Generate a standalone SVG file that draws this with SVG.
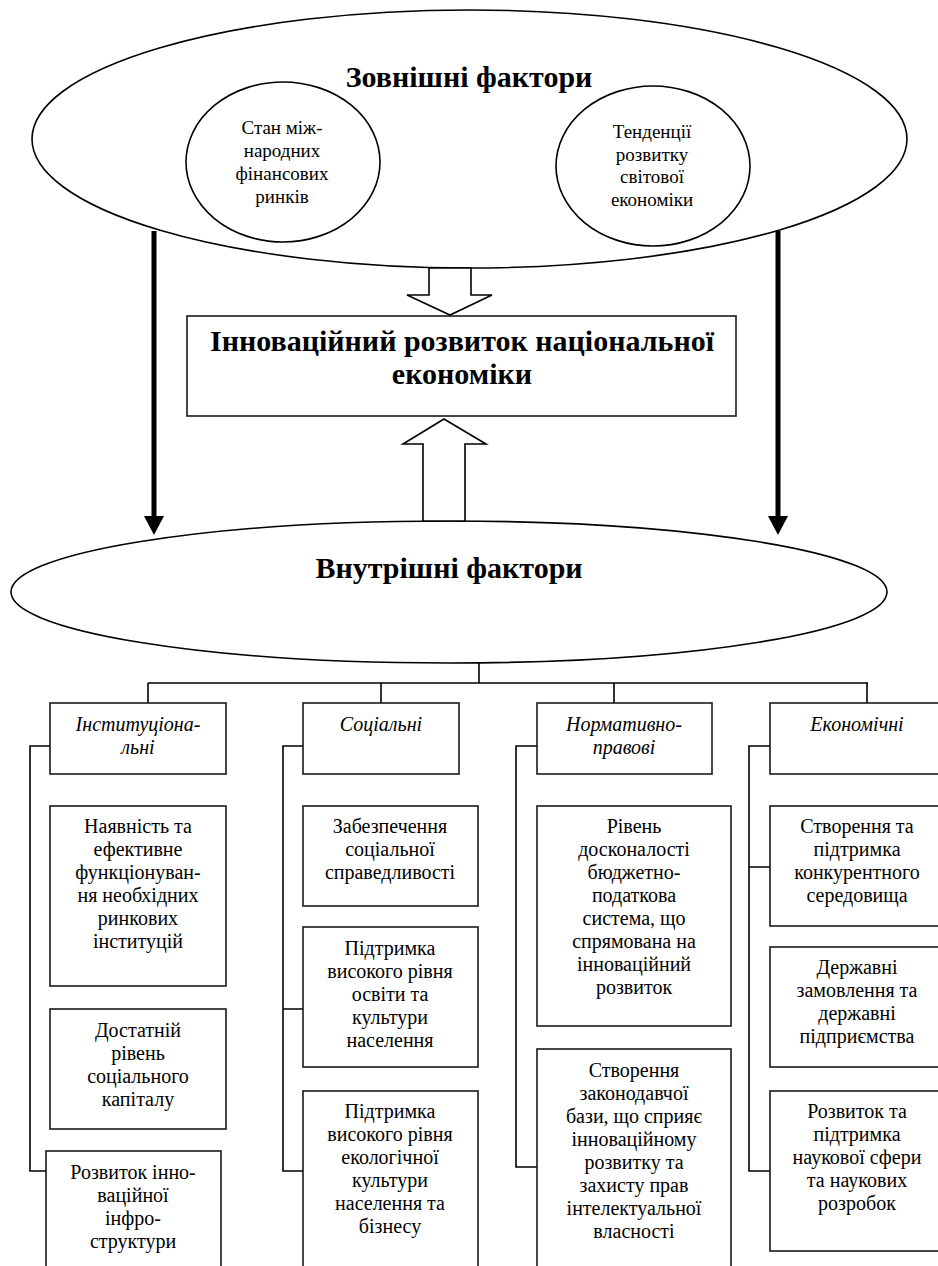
<svg xmlns="http://www.w3.org/2000/svg" width="938" height="1266" viewBox="0 0 938 1266">
<style>
.sh{fill:#fff;stroke:#000;stroke-width:1.6}
.bx{fill:#fff;stroke:#1a1a1a;stroke-width:1.6}
.cn{fill:none;stroke:#000;stroke-width:1.6}
.thick{stroke:#000;stroke-width:5;fill:none}
.t{font-family:"Liberation Serif","Times New Roman",serif;fill:#000;text-anchor:middle}
.tb{font-size:30px;font-weight:bold}
.te{font-size:19px}
.tn{font-size:20px}
.ti{font-size:20px;font-style:italic}
</style>
<rect width="938" height="1266" fill="#fff"/>
<g id="external">
<ellipse class="sh" cx="469.5" cy="139" rx="437.5" ry="129"/>
<text class="t tb" x="469" y="87">Зовнішні фактори</text>
</g>
<g id="financial-markets">
<ellipse class="sh" cx="283" cy="162" rx="97" ry="80"/>
<text class="t te" x="282" y="134">Стан між-</text>
<text class="t te" x="282" y="157">народних</text>
<text class="t te" x="282" y="180">фінансових</text>
<text class="t te" x="282" y="203">ринків</text>
</g>
<g id="world-economy">
<ellipse class="sh" cx="653" cy="166" rx="97" ry="80"/>
<text class="t te" x="652" y="138">Тенденції</text>
<text class="t te" x="652" y="161">розвитку</text>
<text class="t te" x="652" y="183">світової</text>
<text class="t te" x="652" y="206">економіки</text>
</g>
<g id="innovation">
<rect class="bx" x="187" y="316" width="549" height="100"/>
<text class="t tb" x="462" y="351">Інноваційний розвиток національної</text>
<text class="t tb" x="462" y="384">економіки</text>
</g>
<g id="internal">
<ellipse class="sh" cx="449" cy="592" rx="438" ry="71"/>
<text class="t tb" x="449" y="578">Внутрішні фактори</text>
</g>
<g id="connectors">
<polygon class="sh" points="429,268 471,268 471,295 492,295 450,315 407,295 429,295"/>
<polygon class="sh" points="444,419 486,444 465,444 465,521 423,521 423,444 403,444"/>
<line class="thick" x1="154" y1="231" x2="154" y2="520"/>
<polygon points="144,516 164,516 154,535" fill="#000"/>
<line class="thick" x1="778" y1="231" x2="778" y2="520"/>
<polygon points="768,516 788,516 778,535" fill="#000"/>
<path class="cn" d="M479,663 V683 M148,683 H868 M148,683 V703 M381,683 V703 M614,683 V703 M867,683 V703"/>
<path class="cn" d="M50,746 H30 V1171 H46"/>
<path class="cn" d="M303,746 H283 V1171 H303 M283,1009 H303"/>
<path class="cn" d="M537,746 H516 V1167 H537"/>
<path class="cn" d="M770,746 H749 V1171 H770 M749,867 H770"/>
</g>
<g id="institutional">
<rect class="bx" x="50" y="703" width="176" height="71"/>
<text class="t ti" x="138" y="731">Інституціона-</text>
<text class="t ti" x="138" y="754">льні</text>
</g>
<g id="social">
<rect class="bx" x="303" y="703" width="156" height="71"/>
<text class="t ti" x="381" y="731">Соціальні</text>
</g>
<g id="normative">
<rect class="bx" x="537" y="703" width="175" height="71"/>
<text class="t ti" x="624" y="731">Нормативно-</text>
<text class="t ti" x="624" y="754">правові</text>
</g>
<g id="economic">
<rect class="bx" x="770" y="703" width="176" height="71"/>
<text class="t ti" x="857" y="731">Економічні</text>
</g>
<g id="inst-1">
<rect class="bx" x="50" y="806" width="176" height="180"/>
<text class="t tn" x="138" y="833">Наявність та</text>
<text class="t tn" x="138" y="856">ефективне</text>
<text class="t tn" x="138" y="879">функціонуван-</text>
<text class="t tn" x="138" y="902">ня необхідних</text>
<text class="t tn" x="138" y="925">ринкових</text>
<text class="t tn" x="138" y="948">інституцій</text>
</g>
<g id="inst-2">
<rect class="bx" x="50" y="1009" width="176" height="120"/>
<text class="t tn" x="138" y="1037">Достатній</text>
<text class="t tn" x="138" y="1060">рівень</text>
<text class="t tn" x="138" y="1083">соціального</text>
<text class="t tn" x="138" y="1106">капіталу</text>
</g>
<g id="inst-3">
<rect class="bx" x="46" y="1151" width="175" height="130"/>
<text class="t tn" x="133" y="1179">Розвиток інно-</text>
<text class="t tn" x="133" y="1202">ваційної</text>
<text class="t tn" x="133" y="1225">інфро-</text>
<text class="t tn" x="133" y="1248">структури</text>
</g>
<g id="soc-1">
<rect class="bx" x="303" y="806" width="175" height="100"/>
<text class="t tn" x="390" y="833">Забезпечення</text>
<text class="t tn" x="390" y="856">соціальної</text>
<text class="t tn" x="390" y="879">справедливості</text>
</g>
<g id="soc-2">
<rect class="bx" x="303" y="927" width="175" height="140"/>
<text class="t tn" x="390" y="955">Підтримка</text>
<text class="t tn" x="390" y="978">високого рівня</text>
<text class="t tn" x="390" y="1001">освіти та</text>
<text class="t tn" x="390" y="1024">культури</text>
<text class="t tn" x="390" y="1047">населення</text>
</g>
<g id="soc-3">
<rect class="bx" x="303" y="1091" width="175" height="190"/>
<text class="t tn" x="390" y="1118">Підтримка</text>
<text class="t tn" x="390" y="1141">високого рівня</text>
<text class="t tn" x="390" y="1164">екологічної</text>
<text class="t tn" x="390" y="1187">культури</text>
<text class="t tn" x="390" y="1210">населення та</text>
<text class="t tn" x="390" y="1233">бізнесу</text>
</g>
<g id="norm-1">
<rect class="bx" x="537" y="806" width="194" height="220"/>
<text class="t tn" x="634" y="833">Рівень</text>
<text class="t tn" x="634" y="856">досконалості</text>
<text class="t tn" x="634" y="879">бюджетно-</text>
<text class="t tn" x="634" y="902">податкова</text>
<text class="t tn" x="634" y="925">система, що</text>
<text class="t tn" x="634" y="948">спрямована на</text>
<text class="t tn" x="634" y="971">інноваційний</text>
<text class="t tn" x="634" y="994">розвиток</text>
</g>
<g id="norm-2">
<rect class="bx" x="537" y="1049" width="194" height="232"/>
<text class="t tn" x="634" y="1077">Створення</text>
<text class="t tn" x="634" y="1100">законодавчої</text>
<text class="t tn" x="634" y="1123">бази, що сприяє</text>
<text class="t tn" x="634" y="1146">інноваційному</text>
<text class="t tn" x="634" y="1169">розвитку та</text>
<text class="t tn" x="634" y="1192">захисту прав</text>
<text class="t tn" x="634" y="1215">інтелектуальної</text>
<text class="t tn" x="634" y="1238">власності</text>
</g>
<g id="eco-1">
<rect class="bx" x="770" y="806" width="176" height="120"/>
<text class="t tn" x="857" y="833">Створення та</text>
<text class="t tn" x="857" y="856">підтримка</text>
<text class="t tn" x="857" y="879">конкурентного</text>
<text class="t tn" x="857" y="902">середовища</text>
</g>
<g id="eco-2">
<rect class="bx" x="770" y="947" width="176" height="120"/>
<text class="t tn" x="857" y="974">Державні</text>
<text class="t tn" x="857" y="997">замовлення та</text>
<text class="t tn" x="857" y="1020">державні</text>
<text class="t tn" x="857" y="1043">підприємства</text>
</g>
<g id="eco-3">
<rect class="bx" x="770" y="1091" width="176" height="160"/>
<text class="t tn" x="857" y="1118">Розвиток та</text>
<text class="t tn" x="857" y="1141">підтримка</text>
<text class="t tn" x="857" y="1164">наукової сфери</text>
<text class="t tn" x="857" y="1187">та наукових</text>
<text class="t tn" x="857" y="1210">розробок</text>
</g>
</svg>
